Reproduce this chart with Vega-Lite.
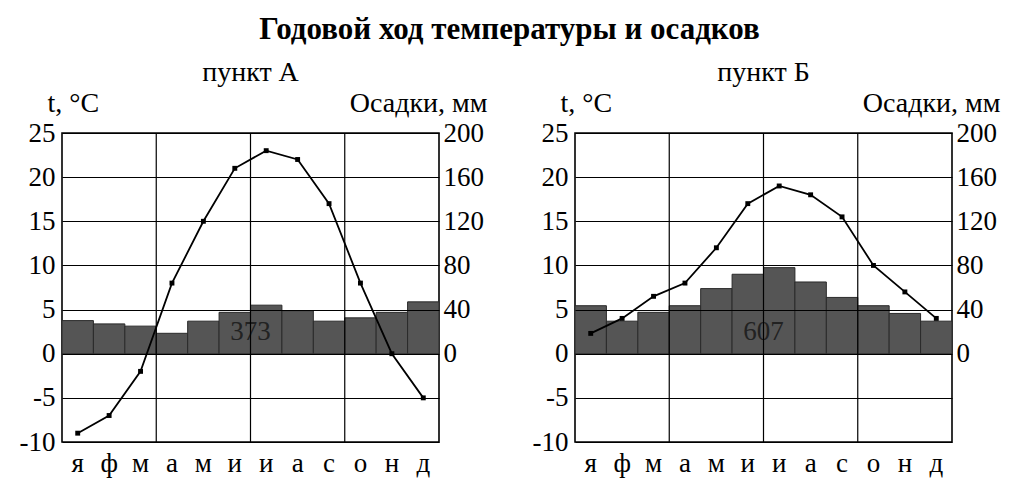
{
  "$schema": "https://vega.github.io/schema/vega-lite/v6.json",
  "background": "white",
  "padding": {"left": 18, "top": 14, "right": 5, "bottom": 2},
  "title": {"text": "Годовой ход температуры и осадков", "font": "Liberation Serif", "fontSize": 31, "fontWeight": "bold", "color": "black", "anchor": "middle", "offset": 12},
  "datasets": {
    "A": [
      {"n": 1, "temp": -9, "precip": 30},
      {"n": 2, "temp": -7, "precip": 27},
      {"n": 3, "temp": -2, "precip": 25},
      {"n": 4, "temp": 8, "precip": 18.5},
      {"n": 5, "temp": 15, "precip": 29.5},
      {"n": 6, "temp": 21, "precip": 37.5},
      {"n": 7, "temp": 23, "precip": 44},
      {"n": 8, "temp": 22, "precip": 39},
      {"n": 9, "temp": 17, "precip": 29.5},
      {"n": 10, "temp": 8, "precip": 32.5},
      {"n": 11, "temp": 0, "precip": 37.5},
      {"n": 12, "temp": -5, "precip": 47}
    ],
    "B": [
      {"n": 1, "temp": 2.3, "precip": 43.5},
      {"n": 2, "temp": 4, "precip": 29.5},
      {"n": 3, "temp": 6.5, "precip": 37.5},
      {"n": 4, "temp": 8, "precip": 43.5},
      {"n": 5, "temp": 12, "precip": 59},
      {"n": 6, "temp": 17, "precip": 72},
      {"n": 7, "temp": 19, "precip": 78},
      {"n": 8, "temp": 18, "precip": 65},
      {"n": 9, "temp": 15.5, "precip": 51},
      {"n": 10, "temp": 10, "precip": 43.5},
      {"n": 11, "temp": 7, "precip": 36.5},
      {"n": 12, "temp": 4, "precip": 29.5}
    ]
  },
  "hconcat": [
    {
      "title": {"text": "пункт А", "font": "Liberation Serif", "fontSize": 28, "fontWeight": "normal", "color": "black", "anchor": "middle", "offset": 2},
      "width": 377,
      "height": 309,
      "data": {"name": "A"},
      "layer": [
        {
          "layer": [
            {
              "mark": {"type": "bar", "fill": "#555555", "stroke": "#2a2a2a", "strokeWidth": 1},
              "encoding": {
                "x": {"field": "n", "type": "ordinal", "scale": {"paddingInner": 0, "paddingOuter": 0},
                  "axis": {"title": null, "labelExpr": "['я','ф','м','а','м','и','и','а','с','о','н','д'][datum.value-1]", "labelAngle": 0, "labelFontSize": 27, "ticks": false, "domain": false, "grid": false, "labelPadding": 8}},
                "y": {"field": "precip", "type": "quantitative", "scale": {"domain": [-80, 200], "nice": false, "zero": false},
                  "axis": {"orient": "right", "values": [0, 40, 80, 120, 160, 200], "grid": false, "ticks": false, "domain": false, "labelPadding": 4, "title": "Осадки, мм", "titleAngle": 0, "titleAlign": "right", "titleBaseline": "alphabetic", "titleX": 48, "titleY": -22}}
              }
            },
            {
              "data": {"values": [{"total": 373}]},
              "mark": {"type": "text", "font": "Liberation Serif", "fontSize": 27, "color": "#222222"},
              "encoding": {
                "x": {"datum": 7, "type": "ordinal", "bandPosition": 0},
                "y": {"datum": 20, "type": "quantitative"},
                "text": {"field": "total", "type": "quantitative"}
              }
            }
          ]
        },
        {
          "layer": [
            {
              "transform": [{"filter": "datum.n == 4 || datum.n == 7 || datum.n == 10"}],
              "mark": {"type": "rule", "color": "black", "strokeWidth": 1.2},
              "encoding": {"x": {"field": "n", "type": "ordinal", "bandPosition": 0}}
            },
            {
              "mark": {"type": "line", "color": "black", "strokeWidth": 1.8, "point": {"shape": "square", "size": 24, "filled": true, "color": "black"}},
              "encoding": {
                "x": {"field": "n", "type": "ordinal"},
                "y": {"field": "temp", "type": "quantitative", "scale": {"domain": [-10, 25], "nice": false},
                  "axis": {"orient": "left", "values": [-10, -5, 0, 5, 10, 15, 20, 25], "labelExpr": "replace(datum.label, '−', '-')", "grid": true, "gridColor": "black", "gridWidth": 1.2, "gridOpacity": 1, "zindex": 1, "ticks": false, "domain": false, "labelPadding": 7, "title": "t, °C", "titleAngle": 0, "titleAlign": "left", "titleBaseline": "alphabetic", "titleX": -15, "titleY": -22}}
              }
            }
          ]
        }
      ],
      "resolve": {"scale": {"y": "independent"}}
    },
    {
      "title": {"text": "пункт Б", "font": "Liberation Serif", "fontSize": 28, "fontWeight": "normal", "color": "black", "anchor": "middle", "offset": 2},
      "width": 377,
      "height": 309,
      "data": {"name": "B"},
      "layer": [
        {
          "layer": [
            {
              "mark": {"type": "bar", "fill": "#555555", "stroke": "#2a2a2a", "strokeWidth": 1},
              "encoding": {
                "x": {"field": "n", "type": "ordinal", "scale": {"paddingInner": 0, "paddingOuter": 0},
                  "axis": {"title": null, "labelExpr": "['я','ф','м','а','м','и','и','а','с','о','н','д'][datum.value-1]", "labelAngle": 0, "labelFontSize": 27, "ticks": false, "domain": false, "grid": false, "labelPadding": 8}},
                "y": {"field": "precip", "type": "quantitative", "scale": {"domain": [-80, 200], "nice": false, "zero": false},
                  "axis": {"orient": "right", "values": [0, 40, 80, 120, 160, 200], "grid": false, "ticks": false, "domain": false, "labelPadding": 4, "title": "Осадки, мм", "titleAngle": 0, "titleAlign": "right", "titleBaseline": "alphabetic", "titleX": 48, "titleY": -22}}
              }
            },
            {
              "data": {"values": [{"total": 607}]},
              "mark": {"type": "text", "font": "Liberation Serif", "fontSize": 27, "color": "#222222"},
              "encoding": {
                "x": {"datum": 7, "type": "ordinal", "bandPosition": 0},
                "y": {"datum": 20, "type": "quantitative"},
                "text": {"field": "total", "type": "quantitative"}
              }
            }
          ]
        },
        {
          "layer": [
            {
              "transform": [{"filter": "datum.n == 4 || datum.n == 7 || datum.n == 10"}],
              "mark": {"type": "rule", "color": "black", "strokeWidth": 1.2},
              "encoding": {"x": {"field": "n", "type": "ordinal", "bandPosition": 0}}
            },
            {
              "mark": {"type": "line", "color": "black", "strokeWidth": 1.8, "point": {"shape": "square", "size": 24, "filled": true, "color": "black"}},
              "encoding": {
                "x": {"field": "n", "type": "ordinal"},
                "y": {"field": "temp", "type": "quantitative", "scale": {"domain": [-10, 25], "nice": false},
                  "axis": {"orient": "left", "values": [-10, -5, 0, 5, 10, 15, 20, 25], "labelExpr": "replace(datum.label, '−', '-')", "grid": true, "gridColor": "black", "gridWidth": 1.2, "gridOpacity": 1, "zindex": 1, "ticks": false, "domain": false, "labelPadding": 7, "title": "t, °C", "titleAngle": 0, "titleAlign": "left", "titleBaseline": "alphabetic", "titleX": -15, "titleY": -22}}
              }
            }
          ]
        }
      ],
      "resolve": {"scale": {"y": "independent"}}
    }
  ],
  "spacing": 136,
  "bounds": "flush",
  "config": {
    "view": {"stroke": "black", "strokeWidth": 1.6},
    "axis": {"labelFont": "Liberation Serif", "labelFontSize": 27, "labelColor": "black", "titleFont": "Liberation Serif", "titleFontSize": 28, "titleFontWeight": "normal", "titleColor": "black"},
    "text": {"font": "Liberation Serif"}
  }
}
